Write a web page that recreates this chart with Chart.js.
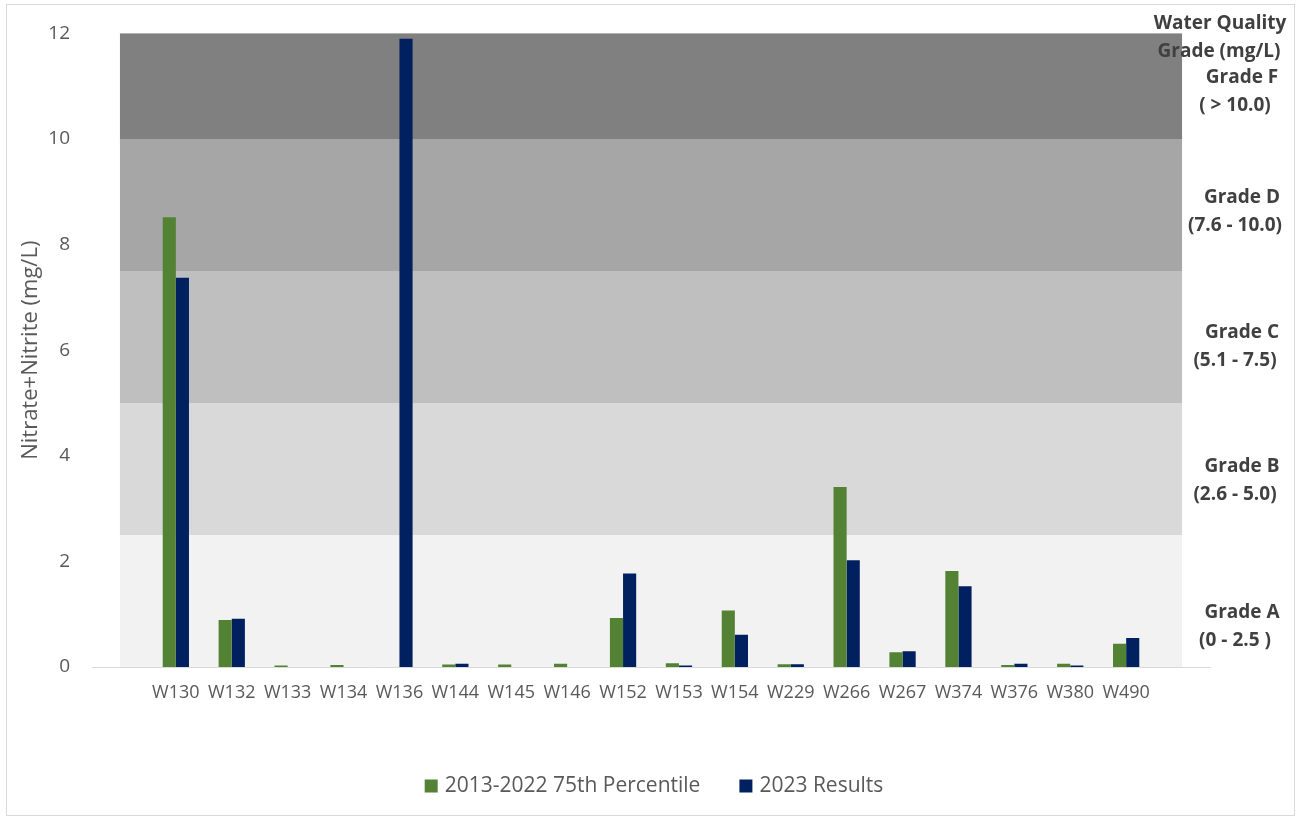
<!DOCTYPE html>
<html>
<head>
<meta charset="utf-8">
<script src="https://cdn.jsdelivr.net/npm/chart.js@4/dist/chart.umd.min.js"></script>
<style>
  body { margin: 0; background: #fff; }
  #wrap { position: relative; width: 1302px; height: 822px; }
  #frame { position: absolute; left: 6px; top: 4px; width: 1289px; height: 812px; border: 1px solid #d9d9d9; box-sizing: border-box; pointer-events: none; }
  canvas { position: absolute; left: 0; top: 0; }
</style>
</head>
<body>
<div id="wrap">
  <canvas id="chart" width="1302" height="822"></canvas>
  <div id="frame"></div>
</div>
<script>
// sites, with an empty slot at each end so the grade bands run past the outer bars
var sites = ['', 'W130', 'W132', 'W133', 'W134', 'W136', 'W144', 'W145', 'W146', 'W152', 'W153',
             'W154', 'W229', 'W266', 'W267', 'W374', 'W376', 'W380', 'W490', ''];
var percentile75 = [null, 8.52, 0.89, 0.03, 0.04, 0, 0.045, 0.045, 0.06, 0.93, 0.07,
                    1.07, 0.05, 3.41, 0.28, 1.82, 0.04, 0.06, 0.44, null];
var results2023 = [null, 7.37, 0.915, 0, 0, 11.9, 0.06, 0, 0, 1.77, 0.03,
                   0.61, 0.05, 2.02, 0.30, 1.53, 0.06, 0.03, 0.55, null];
var yTicks = [0, 2, 4, 6, 8, 10, 12];

// grade bands (mg/L), lowest first
var bandEdges = [0, 2.5, 5, 7.5, 10, 12];
var bandColors = ['#f2f2f2', '#d9d9d9', '#bfbfbf', '#a6a6a6', '#808080'];
var gradeNames = ['Grade A', 'Grade B', 'Grade C', 'Grade D', 'Grade F'];
var gradeRanges = ['(0 - 2.5 )', '(2.6 - 5.0)', '(5.1 - 7.5)', '(7.6 - 10.0)', '( > 10.0)'];

var FONT = "'Open Sans', 'Noto Sans', sans-serif";

var gradeBands = {
  id: 'gradeBands',
  beforeDatasetsDraw: function(chart) {
    var ctx = chart.ctx, x = chart.scales.x, y = chart.scales.y;
    var left = x.getPixelForValue(0), right = x.getPixelForValue(sites.length - 1);
    ctx.save();
    for (var i = 0; i < bandColors.length; i++) {
      var top = y.getPixelForValue(bandEdges[i + 1]);
      var bottom = y.getPixelForValue(bandEdges[i]);
      ctx.fillStyle = bandColors[i];
      ctx.fillRect(left, top, right - left, bottom - top);
    }
    ctx.restore();
  },
  afterDraw: function(chart) {
    var ctx = chart.ctx;
    ctx.save();
    // grade key on the right
    ctx.fillStyle = '#404040';
    ctx.font = 'bold 19px ' + FONT;
    ctx.textAlign = 'center';
    ctx.textBaseline = 'middle';
    ctx.fillText('Water Quality', 1220, 24);
    ctx.fillText('Grade (mg/L)', 1219, 52);
    var rowY = [613, 467, 333, 198, 78]; // A, B, C, D, F
    for (var i = 0; i < gradeNames.length; i++) {
      ctx.fillText(gradeNames[i], 1242, rowY[i]);
      ctx.fillText(gradeRanges[i], 1235, rowY[i] + 28);
    }

    // legend along the bottom
    ctx.font = '21px ' + FONT;
    ctx.textAlign = 'left';
    var sets = chart.data.datasets;
    var box = 13, boxGap = 7, itemGap = 39;
    var widths = sets.map(function(d) { return ctx.measureText(d.label).width; });
    var total = 0;
    widths.forEach(function(w, i) { total += box + boxGap + w + (i ? itemGap : 0); });
    var lx = 654 - total / 2, ly = 786;
    sets.forEach(function(d, i) {
      ctx.fillStyle = d.backgroundColor;
      ctx.fillRect(lx, ly - box / 2, box, box);
      ctx.fillStyle = '#595959';
      ctx.fillText(d.label, lx + box + boxGap, ly);
      lx += box + boxGap + widths[i] + itemGap;
    });
    ctx.restore();
  }
};

new Chart(document.getElementById('chart'), {
  type: 'bar',
  data: {
    labels: sites,
    datasets: [
      { label: '2013-2022 75th Percentile', data: percentile75, backgroundColor: '#548235', borderWidth: 0 },
      { label: '2023 Results', data: results2023, backgroundColor: '#002060', borderWidth: 0 }
    ]
  },
  options: {
    responsive: false,
    animation: false,
    categoryPercentage: 0.47,
    barPercentage: 1,
    layout: { padding: { left: 6, right: 92, top: 33, bottom: 55 } },
    plugins: {
      tooltip: { enabled: false },
      legend: { display: false }
    },
    scales: {
      x: {
        grid: { display: false, drawTicks: false },
        border: { color: '#d9d9d9', width: 1 },
        ticks: { color: '#595959', font: { family: FONT, size: 18 }, padding: 15, autoSkip: false, maxRotation: 0 },
        afterFit: function(s) { s.height = 100; }
      },
      y: {
        min: 0,
        max: 12,
        afterBuildTicks: function(s) { s.ticks = yTicks.map(function(v) { return { value: v }; }); },
        grid: { display: false, drawTicks: false },
        border: { display: false },
        ticks: { color: '#595959', font: { family: FONT, size: 19 }, padding: 22 },
        title: { display: true, text: 'Nitrate+Nitrite (mg/L)', color: '#595959', font: { family: FONT, size: 22 }, padding: { top: 12, bottom: 0 } },
        afterFit: function(s) { s.width = 86; }
      }
    }
  },
  plugins: [gradeBands]
});
</script>
</body>
</html>
